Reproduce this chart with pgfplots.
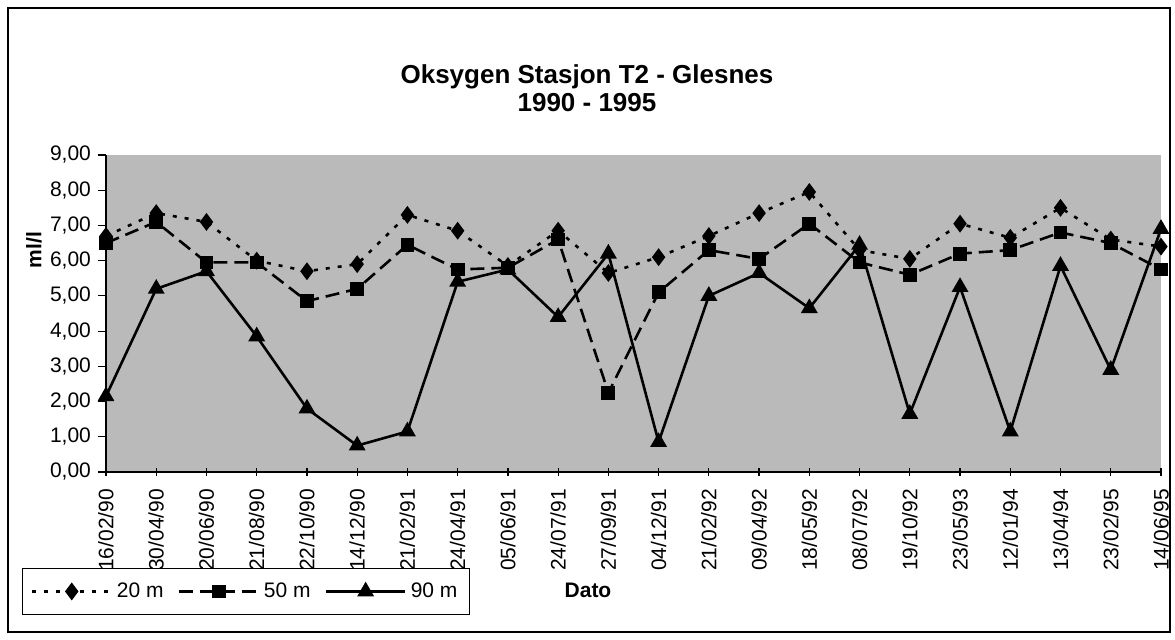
\documentclass[border=0pt]{standalone}
\usepackage{fontspec}
\setmainfont{Liberation Sans}
\usepackage{pgfplots}
\pgfplotsset{compat=1.18}
\newcommand\tl[1]{#1\hspace*{3pt}}
\begin{document}
\begin{tikzpicture}
\path[use as bounding box] (-53pt,-84pt) rectangle (534.5pt,236pt);
\draw[line width=0.8pt] (-49pt,-80pt) rectangle (532pt,232pt);
\begin{axis}[
  at={(0,0)}, anchor=south west,
  width=527.5pt, height=158.5pt, scale only axis,
  xmin=0, xmax=21, ymin=0, ymax=9,
  clip=false,
  axis lines=left,
  axis line style={-, line width=0.9pt},
  axis background/.style={fill=black!27},
  xtick={0,...,21},
  xticklabels={\tl{16/02/90},\tl{30/04/90},\tl{20/06/90},\tl{21/08/90},\tl{22/10/90},\tl{14/12/90},\tl{21/02/91},\tl{24/04/91},\tl{05/06/91},\tl{24/07/91},\tl{27/09/91},\tl{04/12/91},\tl{21/02/92},\tl{09/04/92},\tl{18/05/92},\tl{08/07/92},\tl{19/10/92},\tl{23/05/93},\tl{12/01/94},\tl{13/04/94},\tl{23/02/95},\tl{14/06/95}},
  x tick label style={rotate=90, anchor=east, text height=7.5pt, text depth=0pt, font=\fontsize{10.5}{12}\selectfont},
  ytick={0,...,9},
  y tick label style={font=\fontsize{10.5}{12}\selectfont},
  yticklabel style={/pgf/number format/.cd, fixed, fixed zerofill, precision=2, use comma, assume math mode=true},
  xtick align=center,
  ytick align=outside,
  major tick length=4pt,
  tick style={black, line width=0.6pt},
  legend columns=3,
  legend style={at={(axis description cs:-0.0796,-0.303)}, anchor=north west,
    draw=black, line width=0.6pt, font=\fontsize{10.5}{12}\selectfont,
    inner xsep=4pt, inner ysep=5pt,
    /tikz/every even column/.append style={column sep=5pt}},
  legend image code/.code={\draw[#1, mark repeat=2, mark phase=2] plot coordinates {(0cm,0cm) (0.7cm,0cm) (1.4cm,0cm)};},
]
\addplot[black, line width=1.3pt, dash pattern=on 2pt off 4pt, mark=diamond*, mark size=3.4pt, mark options={solid}]
coordinates {(0,6.7)(1,7.35)(2,7.1)(3,6.0)(4,5.7)(5,5.9)(6,7.3)(7,6.85)(8,5.85)(9,6.85)(10,5.65)(11,6.1)(12,6.7)(13,7.35)(14,7.95)(15,6.3)(16,6.05)(17,7.05)(18,6.65)(19,7.5)(20,6.6)(21,6.4)};
\addlegendentry{20 m}
\addplot[black, line width=1.3pt, dash pattern=on 7pt off 3.5pt, mark=square*, mark size=2.8pt, mark options={solid}]
coordinates {(0,6.5)(1,7.1)(2,5.95)(3,5.95)(4,4.85)(5,5.2)(6,6.45)(7,5.75)(8,5.8)(9,6.6)(10,2.25)(11,5.1)(12,6.3)(13,6.05)(14,7.05)(15,5.95)(16,5.6)(17,6.2)(18,6.3)(19,6.8)(20,6.5)(21,5.75)};
\addlegendentry{50 m}
\addplot[black, line width=1.3pt, mark=triangle*, mark size=3.6pt, mark options={solid}]
coordinates {(0,2.15)(1,5.2)(2,5.7)(3,3.85)(4,1.8)(5,0.75)(6,1.15)(7,5.4)(8,5.75)(9,4.4)(10,6.2)(11,0.85)(12,5.0)(13,5.65)(14,4.65)(15,6.45)(16,1.65)(17,5.25)(18,1.15)(19,5.85)(20,2.9)(21,6.9)};
\addlegendentry{90 m}
\end{axis}
\node[font=\bfseries\fontsize{13}{15}\selectfont] at (240.5pt,197.5pt) {Oksygen Stasjon T2 - Glesnes};
\node[font=\bfseries\fontsize{13}{15}\selectfont] at (240.5pt,184.5pt) {1990 - 1995};
\node[font=\bfseries\fontsize{10.5}{12}\selectfont] at (241pt,-59pt) {Dato};
\node[font=\bfseries\fontsize{10.5}{12}\selectfont, rotate=90] at (-36pt,111pt) {ml/l};
\end{tikzpicture}
\end{document}
